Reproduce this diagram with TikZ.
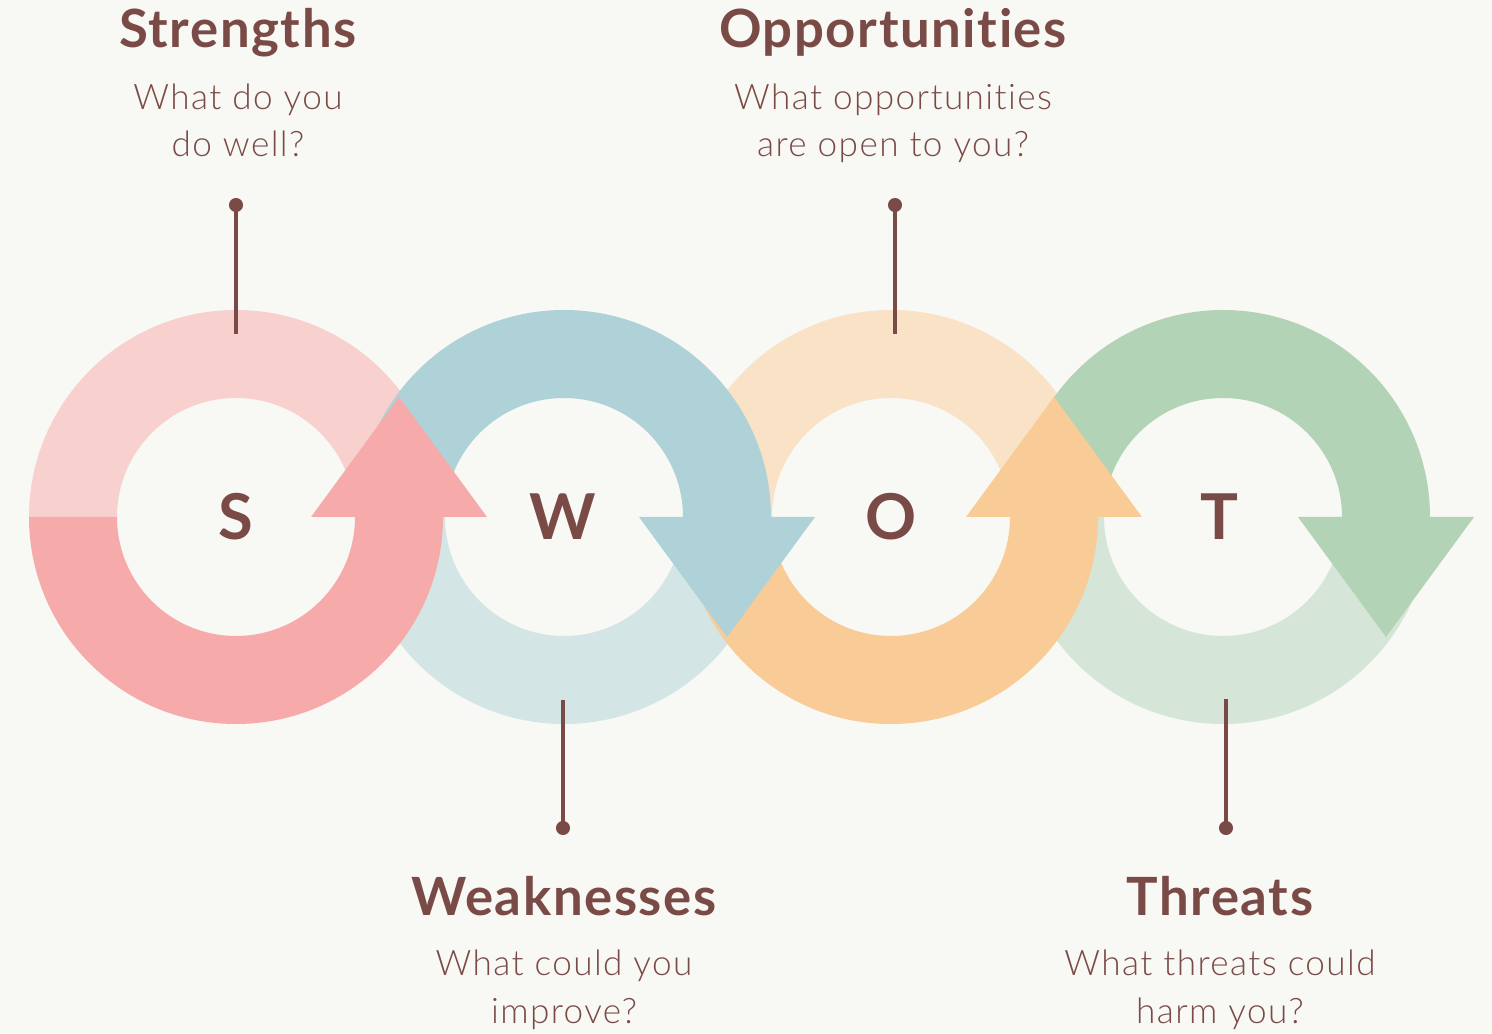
\documentclass[tikz,border=0pt]{standalone}
\usepackage{fontspec}
\setmainfont{Lato}
\newfontfamily\headfont{Lato}[LetterSpace=3,Ligatures=NoCommon]
\newfontfamily\descfont{Lato Light}[LetterSpace=4,Ligatures=NoCommon]
\definecolor{swotbg}{HTML}{F8F8F4}
\definecolor{swotbrown}{HTML}{7A4B46}
\definecolor{pinklight}{HTML}{F8D1CF}
\definecolor{pinkdark}{HTML}{F7AAAA}
\definecolor{bluedark}{HTML}{AED2D7}
\definecolor{bluelight}{HTML}{D3E6E5}
\definecolor{peachlight}{HTML}{FAE2C7}
\definecolor{peachdark}{HTML}{F9CB96}
\definecolor{greendark}{HTML}{B3D3B7}
\definecolor{greenlight}{HTML}{D5E6D8}
\tikzset{
	swottitle/.style={font=\headfont\bfseries\fontsize{15}{18}\selectfont,text=swotbrown,inner sep=0pt},
	swotdesc/.style={font=\descfont\fontsize{10}{13.4}\selectfont,text=swotbrown,align=center,inner sep=0pt},
	swotletter/.style={font=\headfont\bfseries\fontsize{18}{20}\selectfont,text=swotbrown,inner sep=0pt},
	leader/.style={draw=swotbrown,line width=0.9pt},
	leaderdot/.style={circle,fill=swotbrown,inner sep=0pt,minimum size=4pt}
}
\begin{document}
\begin{tikzpicture}
			\useasboundingbox (0,0) rectangle (14.92,10.33);
			\fill[swotbg] (0,0) rectangle (14.92,10.33);
			\foreach \cx/\col in {2.36/pinklight,8.91/peachlight}{
				\fill[\col] (\cx,5.16) ++(180:2.07) arc (180:0:2.07) -- ++(-0.88,0) arc (0:180:1.19) -- cycle;
			}
			\foreach \cx/\col in {5.64/bluelight,12.23/greenlight}{
				\fill[\col] (\cx,5.16) ++(180:2.07) arc (180:360:2.07) -- ++(-0.88,0) arc (360:180:1.19) -- cycle;
			}
			\foreach \cx/\col in {2.36/pinkdark,8.91/peachdark}{
				\fill[\col] (\cx,5.16) ++(180:2.07) arc (180:360:2.07) -- ++(-0.88,0) arc (360:180:1.19) -- cycle;
			}
			\foreach \cx/\col in {5.64/bluedark,12.23/greendark}{
				\fill[\col] (\cx,5.16) ++(180:2.07) arc (180:0:2.07) -- ++(-0.88,0) arc (0:180:1.19) -- cycle;
			}
			\foreach \cx/\col in {2.36/pinkdark,8.91/peachdark}{
				\fill[\col] (\cx+0.75,5.16) -- (\cx+1.63,6.36) -- (\cx+2.51,5.16) -- cycle;
			}
			\foreach \cx/\col in {5.64/bluedark,12.23/greendark}{
				\fill[\col] (\cx+0.75,5.16) -- (\cx+1.63,3.96) -- (\cx+2.51,5.16) -- cycle;
			}

			\node[swotletter] (s) at (2.36,5.16) {S};
			\node[swotletter] (w) at (5.63,5.16) {W};
			\node[swotletter] (o) at (8.91,5.16) {O};
			\node[swotletter] (t) at (12.19,5.16) {T};

			\node[leaderdot] (s dot) at (2.36,8.28) {};
			\node[leaderdot] (w dot) at (5.63,2.05) {};
			\node[leaderdot] (o dot) at (8.95,8.28) {};
			\node[leaderdot] (t dot) at (12.26,2.05) {};
			\coordinate (s tip) at (2.36,6.99);
			\coordinate (w tip) at (5.63,3.33);
			\coordinate (o tip) at (8.95,6.99);
			\coordinate (t tip) at (12.26,3.34);
			\draw[leader] (s dot.center) -- (s tip);
			\draw[leader] (w dot.center) -- (w tip);
			\draw[leader] (o dot.center) -- (o tip);
			\draw[leader] (t dot.center) -- (t tip);

			\node[swottitle,anchor=base] (s title) at (2.38,9.85) {Strengths};
			\node[swottitle,anchor=base] (o title) at (8.93,9.85) {Opportunities};
			\node[swottitle,anchor=base] (w title) at (5.64,1.18) {Weaknesses};
			\node[swottitle,anchor=base] (t title) at (12.20,1.18) {Threats};
			\node[swotdesc,anchor=base] (s desc) at (2.38,8.76) {What do you\\do well?};
			\node[swotdesc,anchor=base] (o desc) at (8.93,8.76) {What opportunities\\are open to you?};
			\node[swotdesc,anchor=base] (w desc) at (5.64,0.10) {What could you\\improve?};
			\node[swotdesc,anchor=base] (t desc) at (12.20,0.10) {What threats could\\harm you?};
\end{tikzpicture}
\end{document}
